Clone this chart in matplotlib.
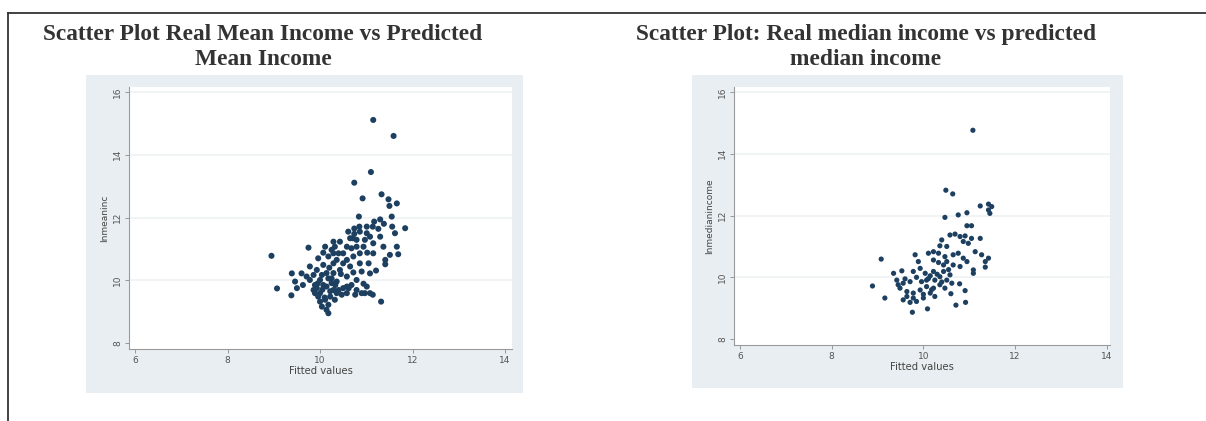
import matplotlib
matplotlib.use("Agg")
import matplotlib.pyplot as plt
from matplotlib.patches import Rectangle
from matplotlib.lines import Line2D

# left panel: fitted values vs log mean income
mean_fit = [11.15, 11.59, 11.10, 10.74, 10.92, 11.33, 11.48, 11.66, 11.50, 11.55,
            10.84, 11.84, 11.17, 11.30, 11.38, 11.26, 11.14, 11.62, 11.56, 11.01,
            10.86, 10.74, 10.65, 10.79, 10.97, 11.15, 11.37, 11.69, 11.51, 11.02,
            10.86, 10.68, 10.72, 10.58, 10.43, 10.29, 10.11, 10.25, 10.40, 10.18,
            9.96, 10.07, 10.29, 10.50, 10.65, 10.86, 11.05, 11.41, 11.21, 10.90,
            10.72, 10.58, 10.79, 10.94, 11.01, 10.79, 10.68, 10.58, 11.14, 11.08,
            11.32, 10.43, 10.29, 10.14, 10.00, 9.86, 9.78, 9.60, 9.39, 9.46,
            9.63, 9.50, 9.75, 8.95, 9.07, 9.38, 9.93, 9.89, 10.00, 10.14,
            10.25, 10.36, 10.29, 10.40, 10.22, 10.11, 10.00, 10.18, 10.14, 10.18,
            10.04, 10.50, 10.58, 10.47, 9.96, 9.86, 9.71, 10.50, 10.58, 10.79,
            10.94, 11.08, 11.30, 11.01, 10.71, 10.61, 10.36, 9.93, 10.04, 10.25,
            10.90, 10.97, 10.76, 10.32, 10.36, 9.89, 10.07, 10.18, 10.29, 10.74,
            10.85, 11.66, 11.41, 11.15, 11.08, 10.32, 10.07, 9.78, 10.22, 10.33,
            10.10, 9.95, 10.45, 10.62, 10.20, 10.05]
mean_inc = [15.11, 14.60, 13.45, 13.11, 12.61, 12.74, 12.58, 12.45, 12.37, 12.03,
            12.03, 11.66, 11.87, 11.94, 11.80, 11.64, 11.71, 11.50, 11.71, 11.50,
            11.55, 11.48, 11.34, 11.29, 11.29, 11.18, 11.07, 10.83, 10.81, 10.88,
            10.86, 11.02, 10.76, 10.65, 11.23, 11.23, 11.07, 10.97, 10.86, 10.76,
            10.70, 10.49, 10.54, 10.54, 10.44, 10.54, 10.54, 10.51, 10.31, 10.28,
            10.25, 10.12, 10.01, 9.89, 9.80, 9.69, 9.85, 9.59, 9.54, 9.59,
            9.32, 10.33, 10.23, 10.23, 10.01, 10.17, 10.01, 10.22, 10.22, 9.96,
            9.85, 9.75, 11.04, 10.78, 9.74, 9.52, 9.75, 9.59, 9.59, 9.80,
            9.91, 9.96, 9.69, 9.69, 9.48, 9.38, 9.32, 9.22, 9.06, 8.95,
            9.16, 9.75, 9.80, 9.54, 9.48, 9.69, 10.12, 10.86, 11.07, 11.07,
            11.07, 11.39, 11.39, 11.71, 11.34, 11.55, 10.65, 10.33, 10.17, 10.06,
            9.59, 9.59, 9.54, 9.38, 9.59, 9.85, 9.85, 10.06, 10.86, 11.65,
            11.71, 11.07, 10.65, 10.86, 10.22, 11.07, 10.88, 10.44, 9.65, 9.85,
            9.45, 9.90, 10.20, 9.75, 10.40, 9.70]

# right panel: fitted values vs log median income
med_fit = [11.08, 10.49, 10.64, 10.47, 10.76, 10.95, 11.24, 11.42, 11.49, 11.42,
           11.45, 10.95, 11.05, 10.58, 10.69, 10.80, 10.91, 11.05, 11.24, 10.40,
           10.87, 10.98, 10.36, 10.51, 11.13, 10.22, 10.33, 10.11, 10.65, 10.76,
           10.87, 10.95, 11.27, 11.42, 11.35, 9.82, 9.89, 9.08, 10.22, 10.33,
           10.44, 10.51, 10.65, 10.80, 11.09, 11.35, 11.09, 9.35, 9.53, 9.42,
           9.56, 9.71, 9.78, 9.93, 10.04, 10.22, 10.11, 10.25, 10.36, 10.51,
           10.58, 10.62, 8.89, 9.16, 9.49, 9.64, 9.78, 9.93, 10.07, 10.22,
           10.36, 10.47, 9.56, 9.71, 9.85, 10.00, 9.76, 10.09, 10.15, 10.25,
           10.60, 10.79, 10.91, 10.71, 10.92, 9.64, 9.78, 9.96, 10.07, 10.44,
           10.47, 9.45, 10.15, 10.30, 9.60, 10.00, 10.40, 9.85, 10.18, 10.55]
med_inc = [14.76, 12.82, 12.70, 11.94, 12.02, 12.09, 12.31, 12.37, 12.29, 12.18,
           12.07, 11.67, 11.67, 11.37, 11.40, 11.32, 11.34, 11.26, 11.26, 11.21,
           11.16, 11.10, 11.02, 11.00, 10.83, 10.83, 10.78, 10.78, 10.73, 10.78,
           10.62, 10.51, 10.73, 10.62, 10.51, 10.73, 10.51, 10.59, 10.56, 10.48,
           10.40, 10.51, 10.40, 10.35, 10.24, 10.33, 10.13, 10.13, 10.21, 9.91,
           9.81, 9.86, 10.19, 10.29, 10.13, 10.19, 9.96, 9.91, 10.02, 9.91,
           10.08, 9.81, 9.72, 9.33, 9.65, 9.54, 9.49, 9.59, 9.70, 9.65,
           9.76, 9.65, 9.27, 9.19, 9.22, 9.33, 8.87, 8.98, 9.49, 9.38,
           9.47, 9.79, 9.57, 9.10, 9.19, 9.38, 9.33, 9.86, 9.91, 10.19,
           10.67, 9.76, 10.05, 10.10, 9.95, 9.45, 9.85, 10.00, 9.60, 10.25]

titles = ["Scatter Plot Real Mean Income vs Predicted\nMean Income",
          "Scatter Plot: Real median income vs predicted\nmedian income"]
ylabels = ["lnmeaninc", "lnmedianincome"]

W, H = 1206, 421
fig = plt.figure(figsize=(W / 100, H / 100), dpi=100)

def px_box(x0, y0, x1, y1):
    # pixel box (top-left origin) -> figure fraction [l, b, w, h]
    return [x0 / W, 1 - y1 / H, (x1 - x0) / W, (y1 - y0) / H]

# table borders
fig.add_artist(Line2D([8 / W, 1], [1 - 13 / H] * 2, color="#333333", lw=1.3))
fig.add_artist(Line2D([8 / W, 8 / W], [0, 1 - 13 / H], color="#333333", lw=1.3))

# stata graph regions
for box in [(86, 75, 523, 393), (692, 75, 1123, 388)]:
    l, b, w, h = px_box(*box)
    fig.add_artist(Rectangle((l, b), w, h, transform=fig.transFigure,
                             facecolor="#e8eef1", edgecolor="none", zorder=0))

panels = [
    (mean_fit, mean_inc, (129, 87, 512, 349), (5.87, 14.15), 19),
    (med_fit, med_inc, (734, 87, 1110, 345), (5.87, 14.07), 14),
]
title_x = [263, 866]

for i, (xv, yv, box, xl, ms) in enumerate(panels):
    ax = fig.add_axes(px_box(*box))
    ax.set_facecolor("white")
    ax.scatter(xv, yv, s=ms, color="#1d3f60", edgecolors="none", zorder=3)
    ax.set_xlim(*xl)
    ax.set_ylim(7.81, 16.16)
    ax.set_xticks([6, 8, 10, 12, 14])
    ax.set_yticks([8, 10, 12, 14, 16])
    for yt in [10, 12, 14, 16]:
        ax.axhline(yt, color="#edf2f4", lw=1.2, zorder=1)
    for s in ["top", "right"]:
        ax.spines[s].set_visible(False)
    for s in ["left", "bottom"]:
        ax.spines[s].set_color("#9a9a9a")
        ax.spines[s].set_linewidth(0.8)
    ax.tick_params(direction="out", length=3, width=0.6, color="#8a8a8a",
                   labelsize=6.5, labelcolor="#555555", pad=2)
    for lab in ax.get_yticklabels():
        lab.set_rotation(90)
        lab.set_va("center")
    ax.set_xlabel("Fitted values", fontsize=7.2, color="#444444", labelpad=1)
    ax.set_ylabel(ylabels[i], fontsize=6.5, color="#444444", labelpad=3)
    fig.text(title_x[i] / W, 1 - 47 / H, titles[i], ha="center", va="center",
             fontsize=16.8, fontweight="bold", family="Liberation Serif",
             color="#333333", linespacing=1.22)

fig.savefig("out.png", dpi=100)
